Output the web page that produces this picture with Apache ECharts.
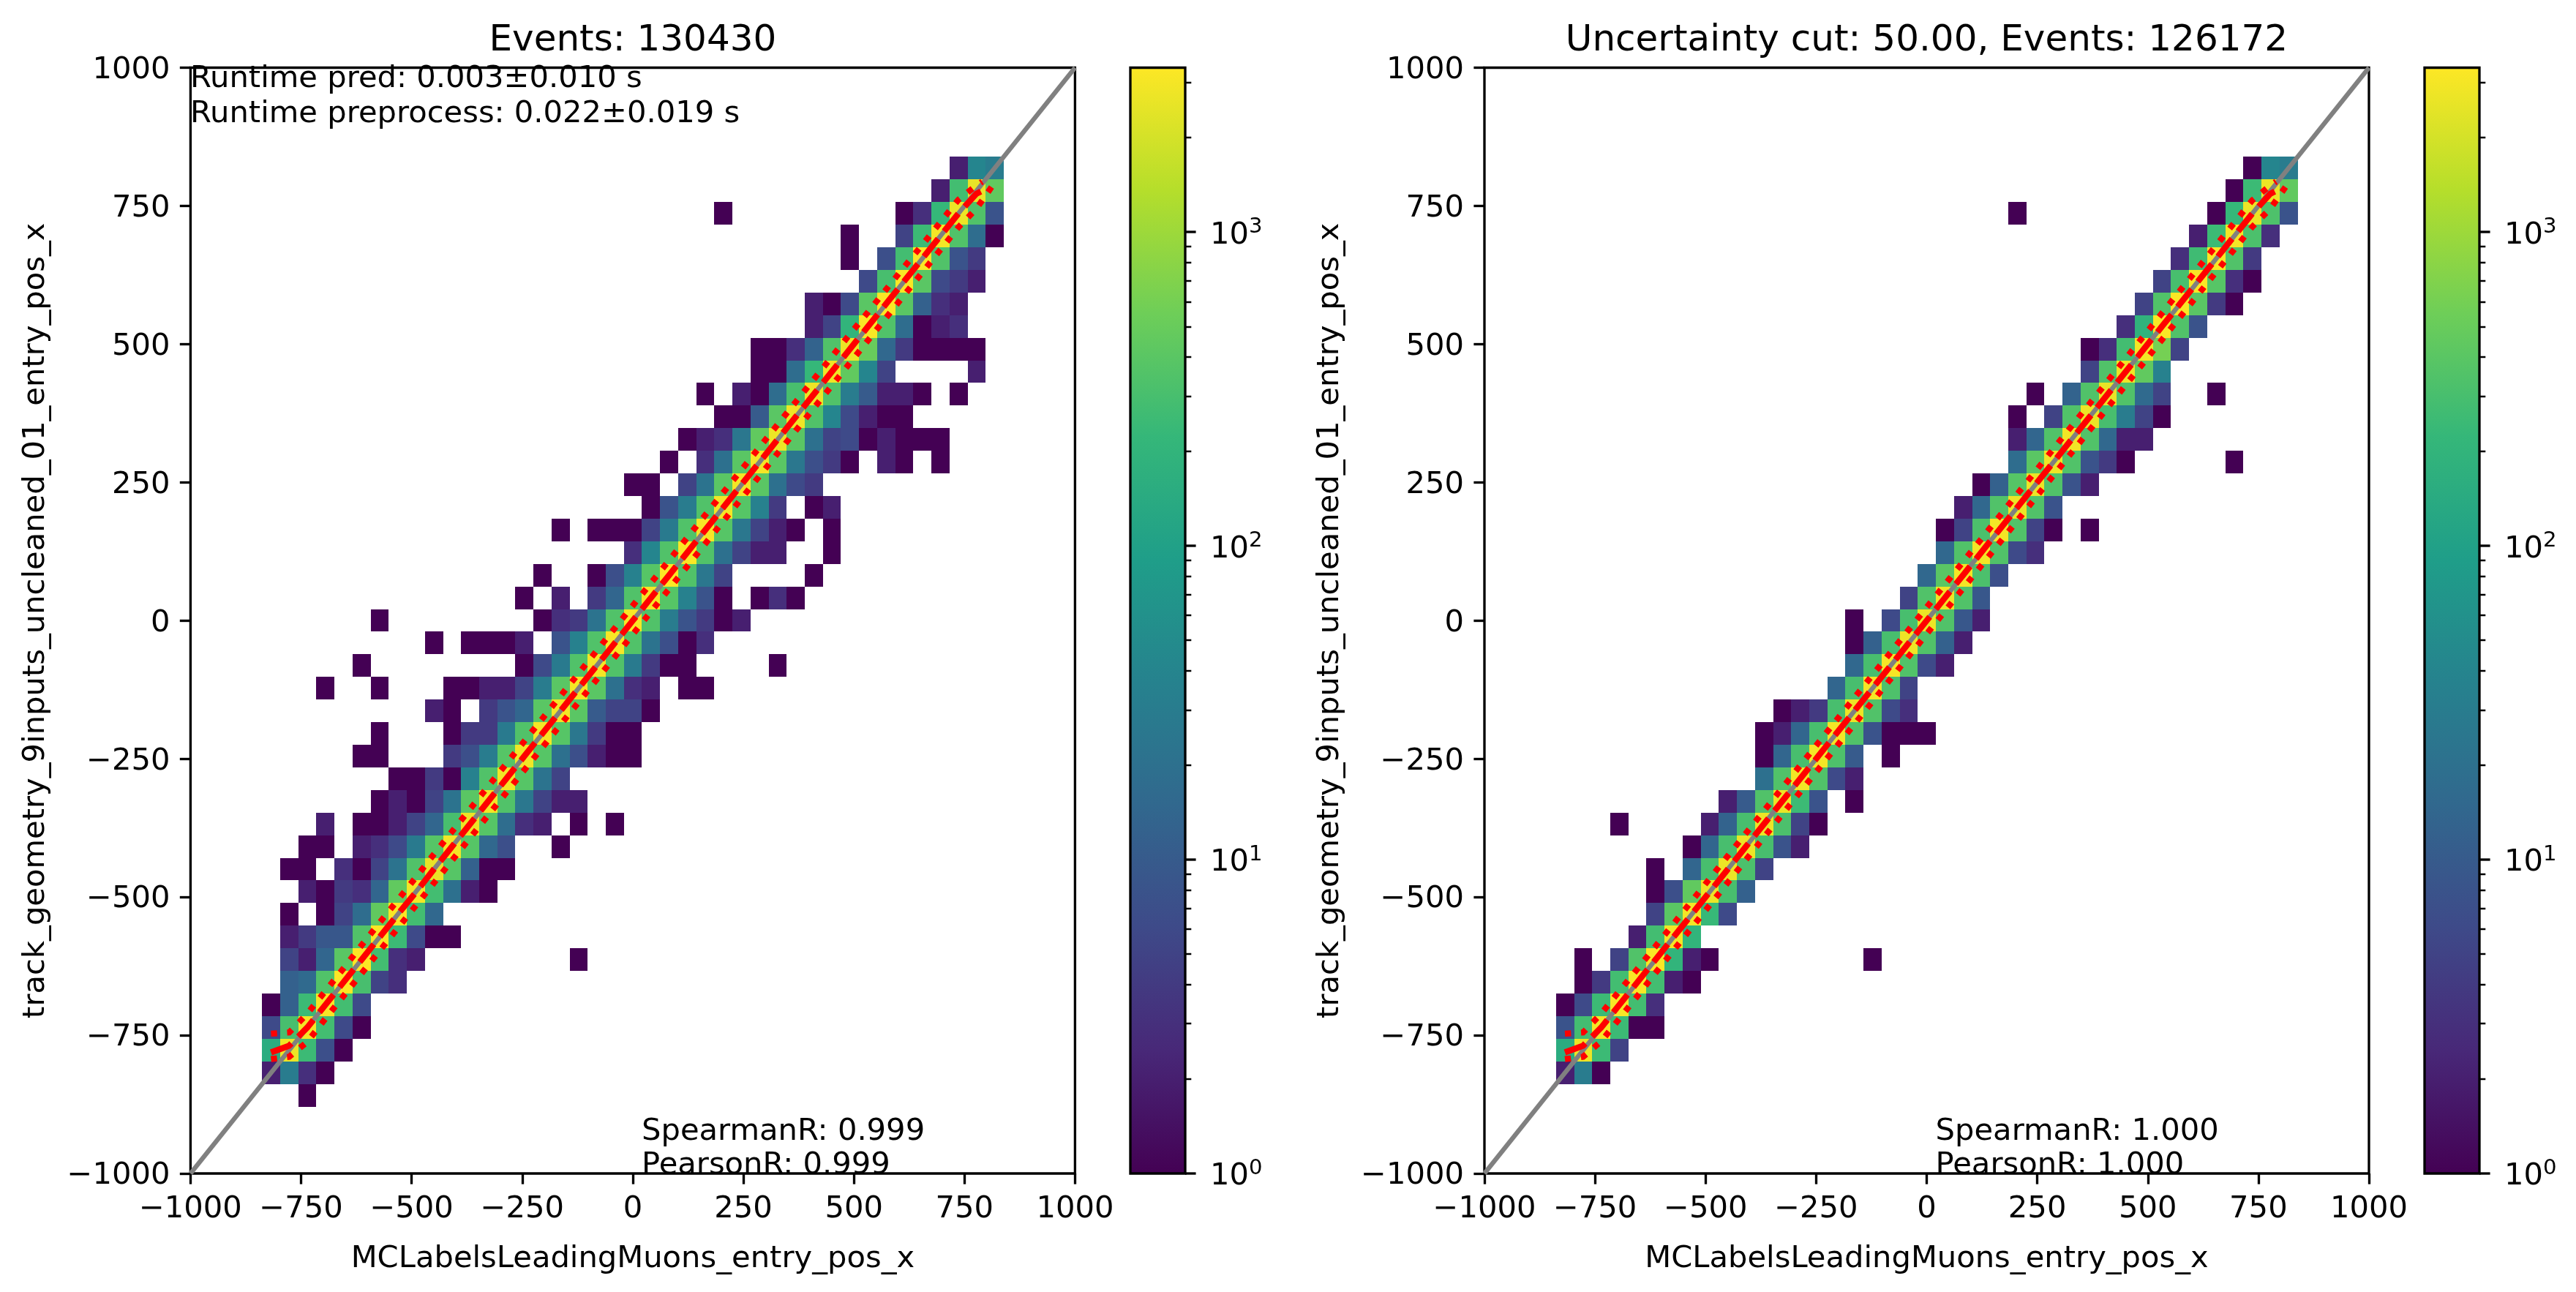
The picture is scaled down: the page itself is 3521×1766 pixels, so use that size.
<!DOCTYPE html>
<html><head><meta charset="utf-8">
<style>html,body{margin:0;padding:0;background:#fff}#c{width:3521px;height:1766px}</style>
<script src="https://cdn.jsdelivr.net/npm/echarts@6/dist/echarts.min.js"></script>
</head><body><div id="c"></div>
<script>
const binEdges=[-879,-838.1,-797.2,-756.3,-715.4,-674.5,-633.6,-592.7,-551.8,-510.9,-470,-429.1,-388.2,-347.3,-306.4,-265.5,-224.6,-183.7,-142.8,-101.9,-61,-20.1,20.8,61.7,102.6,143.5,184.4,225.3,266.2,307.1,348,388.9,429.8,470.7,511.6,552.5,593.4,634.3,675.2,716.1,757,797.9,838.8];
// [column, row, count]; column c spans binEdges[c+1]..binEdges[c+2], row r spans binEdges[r]..binEdges[r+1]
const leftCells=[
[38,41,2],[39,41,40],[40,41,30],
[37,40,2],[38,40,280],[39,40,2600],[40,40,450],
[25,39,1],[35,39,1],[36,39,3],[37,39,220],[38,39,2700],[39,39,350],[40,39,8],
[32,38,1],[35,38,5],[36,38,250],[37,38,3000],[38,38,350],[39,38,18],[40,38,1],
[32,37,1],[34,37,7],[35,37,280],[36,37,3200],[37,37,350],[38,37,8],[39,37,4],
[33,36,6],[34,36,300],[35,36,3200],[36,36,400],[37,36,6],[38,36,4],[39,36,2],
[30,35,2],[31,35,1],[32,35,6],[33,35,400],[34,35,3300],[35,35,400],[36,35,12],[37,35,3],[38,35,2],
[30,34,2],[31,34,5],[32,34,200],[33,34,3200],[34,34,350],[35,34,18],[36,34,1],[37,34,2],[38,34,3],
[27,33,1],[28,33,1],[29,33,3],[30,33,13],[31,33,350],[32,33,2700],[33,33,500],[34,33,15],[35,33,4],[36,33,1],[37,33,1],[38,33,1],[39,33,1],
[27,32,1],[28,32,1],[29,32,18],[30,32,220],[31,32,2800],[32,32,450],[33,32,40],[34,32,5],[39,32,2],
[24,31,1],[26,31,2],[27,31,1],[28,31,18],[29,31,300],[30,31,2700],[31,31,350],[32,31,30],[33,31,10],[34,31,2],[35,31,2],[36,31,1],[38,31,1],
[25,30,1],[26,30,1],[27,30,10],[28,30,400],[29,30,2800],[30,30,350],[31,30,40],[32,30,6],[33,30,2],[34,30,1],[35,30,1],
[23,29,1],[24,29,2],[25,29,3],[26,29,25],[27,29,450],[28,29,2700],[29,29,400],[30,29,20],[31,29,5],[32,29,6],[33,29,1],[34,29,2],[35,29,1],[36,29,1],[37,29,1],
[22,28,1],[24,28,3],[25,28,20],[26,28,400],[27,28,3000],[28,28,400],[29,28,25],[30,28,7],[31,28,4],[32,28,1],[34,28,2],[35,28,1],[37,28,1],
[20,27,1],[21,27,1],[23,27,5],[24,27,22],[25,27,400],[26,27,3000],[27,27,400],[28,27,20],[29,27,6],[30,27,4],
[21,26,1],[22,26,8],[23,26,30],[24,26,350],[25,26,3000],[26,26,380],[27,26,35],[28,26,4],[30,26,1],[31,26,2],
[16,25,1],[18,25,1],[19,25,1],[20,25,1],[21,25,5],[22,25,28],[23,25,350],[24,25,3100],[25,25,380],[26,25,25],[27,25,5],[28,25,2],[29,25,1],[31,25,1],
[20,24,3],[21,24,40],[22,24,350],[23,24,3200],[24,24,350],[25,24,20],[26,24,5],[27,24,2],[28,24,2],[31,24,1],
[15,23,1],[18,23,1],[19,23,7],[20,23,35],[21,23,380],[22,23,3300],[23,23,350],[24,23,25],[25,23,5],[30,23,1],
[14,22,1],[16,22,2],[18,22,4],[19,22,14],[20,22,350],[21,22,3000],[22,22,380],[23,22,35],[24,22,8],[25,22,1],[27,22,1],[28,22,3],[29,22,1],
[6,21,1],[15,21,1],[16,21,3],[17,21,4],[18,21,22],[19,21,350],[20,21,3200],[21,21,350],[22,21,30],[23,21,8],[24,21,4],[25,21,1],[26,21,2],
[9,20,1],[11,20,1],[12,20,1],[13,20,1],[14,20,2],[16,20,8],[17,20,35],[18,20,350],[19,20,3100],[20,20,350],[21,20,22],[22,20,7],[23,20,1],[24,20,3],
[5,19,1],[14,19,1],[15,19,6],[16,19,28],[17,19,350],[18,19,3000],[19,19,350],[20,19,28],[21,19,4],[22,19,1],[23,19,1],[28,19,1],
[3,18,1],[6,18,1],[10,18,1],[11,18,1],[12,18,2],[13,18,2],[14,18,5],[15,18,30],[16,18,400],[17,18,3000],[18,18,400],[19,18,20],[20,18,3],[21,18,2],[23,18,1],[24,18,1],
[9,17,2],[10,17,1],[12,17,4],[13,17,8],[14,17,14],[15,17,400],[16,17,3000],[17,17,400],[18,17,10],[19,17,5],[20,17,5],[21,17,1],
[6,16,1],[10,16,1],[11,16,4],[12,16,4],[13,16,28],[14,16,350],[15,16,3000],[16,16,380],[17,16,25],[18,16,4],[19,16,1],[20,16,1],
[5,15,1],[6,15,1],[10,15,4],[11,15,7],[12,15,30],[13,15,380],[14,15,2900],[15,15,380],[16,15,20],[17,15,7],[18,15,2],[19,15,1],[20,15,1],
[7,14,1],[8,14,1],[9,14,4],[10,14,1],[11,14,35],[12,14,350],[13,14,2900],[14,14,380],[15,14,22],[16,14,5],
[6,13,1],[7,13,2],[8,13,1],[9,13,5],[10,13,22],[11,13,400],[12,13,2900],[13,13,350],[14,13,25],[15,13,5],[16,13,2],[17,13,2],
[3,12,2],[5,12,1],[6,12,1],[7,12,2],[8,12,5],[9,12,14],[10,12,300],[11,12,2700],[12,12,380],[13,12,18],[14,12,3],[15,12,2],[17,12,1],[19,12,1],
[2,11,1],[3,11,1],[5,11,2],[6,11,3],[7,11,6],[8,11,28],[9,11,380],[10,11,3000],[11,11,380],[12,11,15],[13,11,7],[16,11,1],
[1,10,1],[2,10,1],[4,10,3],[5,10,1],[6,10,5],[7,10,22],[8,10,350],[9,10,2600],[10,10,380],[11,10,12],[12,10,1],[13,10,1],
[2,9,2],[3,9,1],[4,9,4],[5,9,3],[6,9,14],[7,9,450],[8,9,3000],[9,9,280],[10,9,20],[11,9,2],[12,9,1],
[1,8,1],[3,8,1],[4,8,5],[5,8,18],[6,8,450],[7,8,3200],[8,8,280],[9,8,15],
[1,7,2],[2,7,4],[3,7,9],[4,7,9],[5,7,350],[6,7,3200],[7,7,250],[8,7,6],[9,7,1],[10,7,1],
[1,6,5],[2,6,2],[3,6,14],[4,6,400],[5,6,3300],[6,6,280],[7,6,3],[8,6,2],[17,6,1],
[1,5,12],[2,5,16],[3,5,350],[4,5,3300],[5,5,300],[6,5,5],[7,5,3],
[0,4,1],[1,4,12],[2,4,250],[3,4,3100],[4,4,280],[5,4,6],
[0,3,6],[1,3,300],[2,3,3000],[3,3,280],[4,3,6],[5,3,1],
[0,2,150],[1,2,2700],[2,2,250],[3,2,7],[4,2,1],
[0,1,2],[1,1,30],[2,1,3],[3,1,1],
[2,0,1]
];
const rightCells=[
[38,41,1],[39,41,40],[40,41,30],
[37,40,1],[38,40,250],[39,40,2700],[40,40,450],
[25,39,1],[36,39,1],[37,39,220],[38,39,2700],[39,39,330],[40,39,8],
[35,38,2],[36,38,250],[37,38,3000],[38,38,320],[39,38,3],
[34,37,3],[35,37,260],[36,37,3200],[37,37,350],[38,37,4],
[33,36,5],[34,36,300],[35,36,3200],[36,36,380],[37,36,3],[38,36,1],
[32,35,5],[33,35,350],[34,35,3200],[35,35,400],[36,35,4],[37,35,1],
[31,34,3],[32,34,190],[33,34,3200],[34,34,350],[35,34,8],
[29,33,1],[30,33,3],[31,33,280],[32,33,2900],[33,33,600],[34,33,5],
[29,32,5],[30,32,350],[31,32,2800],[32,32,450],[33,32,35],
[26,31,1],[28,31,13],[29,31,350],[30,31,2600],[31,31,350],[32,31,16],[33,31,5],[36,31,1],
[25,30,1],[27,30,5],[28,30,350],[29,30,2700],[30,30,300],[31,30,30],[32,30,5],[33,30,1],
[25,29,2],[26,29,14],[27,29,350],[28,29,2900],[29,29,350],[30,29,15],[31,29,2],[32,29,2],
[25,28,18],[26,28,400],[27,28,2800],[28,28,350],[29,28,8],[30,28,4],[31,28,1],[37,28,1],
[23,27,1],[24,27,12],[25,27,380],[26,27,2700],[27,27,350],[28,27,8],[29,27,2],
[22,26,2],[23,26,15],[24,26,350],[25,26,2700],[26,26,350],[27,26,8],
[21,25,1],[22,25,5],[23,25,320],[24,25,3000],[25,25,350],[26,25,5],[27,25,1],[29,25,1],
[21,24,15],[22,24,350],[23,24,2900],[24,24,350],[25,24,6],[26,24,3],
[20,23,15],[21,23,400],[22,23,3000],[23,23,320],[24,23,7],
[19,22,5],[20,22,350],[21,22,2800],[22,22,350],[23,22,9],
[16,21,1],[18,21,6],[19,21,300],[20,21,2700],[21,21,350],[22,21,9],[23,21,2],
[16,20,1],[17,20,12],[18,20,300],[19,20,2800],[20,20,350],[21,20,12],[22,20,2],
[16,19,15],[17,19,300],[18,19,3100],[19,19,350],[20,19,6],[21,19,2],
[15,18,14],[16,18,300],[17,18,3000],[18,18,330],[19,18,5],
[12,17,1],[13,17,2],[14,17,4],[15,17,300],[16,17,2700],[17,17,350],[18,17,6],[19,17,3],
[11,16,1],[12,16,2],[13,16,14],[14,16,300],[15,16,3000],[16,16,350],[17,16,8],[18,16,1],[19,16,1],[20,16,1],
[11,15,1],[12,15,14],[13,15,300],[14,15,3000],[15,15,330],[16,15,10],[18,15,1],
[11,14,20],[12,14,350],[13,14,2900],[14,14,350],[15,14,6],[16,14,2],
[9,13,2],[10,13,10],[11,13,350],[12,13,2700],[13,13,250],[14,13,8],[16,13,1],
[3,12,1],[8,12,2],[9,12,13],[10,12,300],[11,12,2700],[12,12,320],[13,12,5],[14,12,1],
[7,11,1],[8,11,14],[9,11,300],[10,11,2700],[11,11,300],[12,11,8],[13,11,2],
[5,10,1],[7,10,14],[8,10,300],[9,10,2700],[10,10,320],[11,10,5],
[5,9,1],[6,9,7],[7,9,450],[8,9,2700],[9,9,300],[10,9,12],
[5,8,5],[6,8,400],[7,8,3000],[8,8,230],[9,8,6],
[4,7,2],[5,7,280],[6,7,3000],[7,7,200],
[1,6,1],[3,6,5],[4,6,350],[5,6,3200],[6,6,200],[7,6,2],[8,6,1],[17,6,1],
[1,5,1],[2,5,4],[3,5,280],[4,5,3200],[5,5,280],[6,5,2],[7,5,1],
[0,4,1],[1,4,6],[2,4,250],[3,4,3100],[4,4,280],[5,4,3],
[0,3,8],[1,3,280],[2,3,3000],[3,3,250],[4,3,1],[5,3,1],
[0,2,150],[1,2,2700],[2,2,250],[3,2,5],
[0,1,2],[1,1,30],[2,1,1]
];
const lineX=[-818,-777,-736,-695,-654,-613,-572,-531,-490,-450,-409,-368,-327,-286,-245,-204,-163,-122,-81,-41,0,41,82,123,164,205,245,286,327,368,409,450,491,532,573,614,655,695,736,777];
const leftMedian=[-781,-769,-736,-695,-654,-613,-572,-531,-491,-450,-409,-368,-327,-286,-245,-204,-163,-122,-81,-41,0,41,82,123,164,205,245,286,327,368,409,450,491,532,573,614,655,695,736,772];
const leftUpper=[-747,-745,-711,-670,-629,-587,-546,-505,-464,-423,-382,-341,-300,-259,-218,-177,-136,-95,-54,-14,27,68,109,150,191,232,272,313,354,395,436,477,518,558,599,640,680,720,761,787];
const leftLower=[-793,-789,-762,-720,-679,-638,-597,-556,-515,-475,-434,-393,-352,-311,-270,-229,-188,-147,-106,-66,-25,16,57,98,139,180,220,261,302,343,384,425,466,507,548,589,630,670,711,745];
const rightMedian=[-781,-769,-736,-695,-654,-613,-572,-531,-490,-450,-409,-368,-327,-286,-245,-204,-163,-122,-81,-41,0,41,82,123,164,205,245,286,327,368,409,450,491,532,573,614,655,695,736,772];
const rightUpper=[-747,-745,-711,-670,-630,-589,-548,-507,-466,-426,-385,-344,-303,-262,-221,-180,-139,-98,-57,-17,24,65,106,147,188,229,269,310,351,392,433,474,515,556,597,638,679,719,760,787];
const rightLower=[-793,-789,-761,-720,-679,-637,-596,-555,-514,-474,-433,-392,-351,-310,-269,-228,-187,-146,-105,-65,-24,17,58,99,140,181,221,262,303,344,385,426,467,508,549,590,631,671,712,745];
const medianTail=[787,776];
const upperTail=[790,794];
const lowerTail=[812,785];
const diagonal=[[-1000,-1000],[1000,1000]];
const axisTicks=[-1000,1000,250];
const colorbarMax=3346;
const colorbarMajor=[1,10,100,1000];
const colorbarMinor=[2,3,4,5,6,7,8,9,20,30,40,50,60,70,80,90,200,300,400,500,600,700,800,900,2000,3000];
const xName='MCLabelsLeadingMuons_entry_pos_x';
const yName='track_geometry_9inputs_uncleaned_01_entry_pos_x';
const leftTitle='Events: 130430';
const rightTitle='Uncertainty cut: 50.00, Events: 126172';
const runtimeLines=['Runtime pred: 0.003±0.010 s','Runtime preprocess: 0.022±0.019 s'];
const leftStats=['SpearmanR: 0.999','PearsonR: 0.999'];
const rightStats=['SpearmanR: 1.000','PearsonR: 1.000'];

const viridis=['#440154','#482878','#3e4a89','#31688e','#26828e','#1f9e89','#35b779','#6ece58','#b5de2b','#fde725'];
const FONT='"DejaVu Sans"', FS=41.67, LW=3.33;
function hex(c){return [1,3,5].map(i=>parseInt(c.substr(i,2),16));}
function colorAt(t){t=Math.max(0,Math.min(1,t));const p=t*(viridis.length-1),i=Math.min(viridis.length-2,Math.floor(p)),f=p-i,a=hex(viridis[i]),b=hex(viridis[i+1]);
  return 'rgb('+a.map((v,k)=>Math.round(v+(b[k]-v)*f)).join(',')+')';}
const logMax=Math.log10(colorbarMax);
const minus=v=>String(v).replace('-','\u2212');

const P=[{x:260.4,cx:1545},{x:2029,cx:3314}];
const W=1209,TOP=92.5,H=1511.5,CW=75;
const grid=[],xAxis=[],yAxis=[],series=[],title=[],graphic=[];

function heat(cells,ax){
  return {type:'custom',xAxisIndex:ax,yAxisIndex:ax,z:1,silent:true,animation:false,clip:false,
    data:cells.map(c=>[binEdges[c[0]+1],binEdges[c[0]+2],binEdges[c[1]],binEdges[c[1]+1],c[2]]),
    encode:{x:[0,1],y:[2,3]},
    renderItem:(p,api)=>{
      const a=api.coord([api.value(0),api.value(3)]),b=api.coord([api.value(1),api.value(2)]);
      const x=Math.round(a[0]),y=Math.round(a[1]);
      return {type:'rect',shape:{x,y,width:Math.round(b[0])-x,height:Math.round(b[1])-y},
        style:{fill:colorAt(Math.log10(api.value(4))/logMax),stroke:null}};
    }};
}
function line(data,ax,color,width,dash,z){
  return {type:'line',xAxisIndex:ax,yAxisIndex:ax,z,silent:true,animation:false,showSymbol:false,symbol:'none',clip:true,
    data,lineStyle:{color,width,type:dash,cap:'butt',join:'miter'}};
}
function addPanel(i,cells,med,up,lo,ttl,stats){
  const g=P[i],a=i*2,b=a+1;
  grid.push({left:g.x,top:TOP,width:W,height:H,show:true,borderColor:'#000',borderWidth:LW,backgroundColor:'#fff',containLabel:false,outerBoundsMode:'none'});
  grid.push({left:g.cx,top:TOP,width:CW,height:H,show:false,outerBoundsMode:'none'});
  const common={type:'value',min:axisTicks[0],max:axisTicks[1],interval:axisTicks[2],splitLine:{show:false},
    axisLine:{show:false,onZero:false},axisTick:{show:true,length:14.6,lineStyle:{color:'#000',width:LW}},
    nameTextStyle:{fontFamily:FONT,fontSize:FS,color:'#000'}};
  xAxis.push(Object.assign({},common,{gridIndex:a,position:'bottom',name:xName,nameLocation:'middle',nameGap:96,
    axisLabel:{fontFamily:FONT,fontSize:FS,color:'#000',margin:28,formatter:minus,hideOverlap:false}}));
  yAxis.push(Object.assign({},common,{gridIndex:a,position:'left',name:yName,nameLocation:'middle',nameGap:190,
    axisLabel:{fontFamily:FONT,fontSize:FS,color:'#000',margin:28,formatter:v=>'{v|'+minus(v)+'}',hideOverlap:false,
      rich:{v:{fontFamily:FONT,fontSize:FS,color:'#000',padding:[7,0,0,0]}}}}));
  xAxis.push({type:'value',gridIndex:b,min:0,max:1,show:false});
  yAxis.push({type:'log',logBase:10,gridIndex:b,min:1,max:colorbarMax,position:'right',
    axisLine:{show:false,onZero:false},axisTick:{show:false},splitLine:{show:false},minorTick:{show:false},minorSplitLine:{show:false},
    axisLabel:{margin:34,color:'#000',fontFamily:FONT,fontSize:FS,
      formatter:v=>{const e=Math.log10(v);return Math.abs(e-Math.round(e))<1e-6?'{b|10}{s|'+Math.round(e)+'}':'';},
      rich:{b:{fontFamily:FONT,fontSize:FS,color:'#000',padding:[9,0,0,0]},s:{fontFamily:FONT,fontSize:29.2,color:'#000',verticalAlign:'top',padding:[4,0,14,0]}}}});
  series.push(heat(cells,a));
  series.push(line(diagonal,a,'#808080',6.25,'solid',2));
  const pts=(v,t)=>lineX.map((x,k)=>[x,v[k]]).concat([t]);
  series.push(line(pts(med,medianTail),a,'#ff0000',8.33,[30.8,13.3],3));
  series.push(line(pts(up,upperTail),a,'#ff0000',8.33,[8.33,13.75],3));
  series.push(line(pts(lo,lowerTail),a,'#ff0000',8.33,[8.33,13.75],3));
  // colorbar
  series.push({type:'custom',xAxisIndex:b,yAxisIndex:b,z:1,silent:true,animation:false,clip:false,data:[[0,1,1,colorbarMax]],
    encode:{x:[0,1],y:[2,3]},
    renderItem:(p,api)=>{
      const s=api.coord([api.value(0),api.value(3)]),e=api.coord([api.value(1),api.value(2)]);
      const shape={x:s[0],y:s[1],width:e[0]-s[0],height:e[1]-s[1]};
      const stops=viridis.map((c,k)=>({offset:k/(viridis.length-1),color:c}));
      return {type:'group',children:[
        {type:'rect',shape,style:{fill:new echarts.graphic.LinearGradient(0,1,0,0,stops),stroke:null}},
        {type:'rect',shape,style:{fill:null,stroke:'#000',lineWidth:LW}}]};
    }});
  const tickSeries=(vals,len,w)=>({type:'custom',xAxisIndex:b,yAxisIndex:b,z:2,silent:true,animation:false,clip:false,
    data:vals.map(v=>[1,v]),encode:{x:0,y:1},
    renderItem:(p,api)=>{const q=api.coord([api.value(0),api.value(1)]);
      return {type:'line',shape:{x1:q[0],y1:Math.round(q[1]),x2:q[0]+len,y2:Math.round(q[1])},style:{stroke:'#000',lineWidth:w}};}});
  series.push(tickSeries(colorbarMajor,14.6,LW));
  series.push(tickSeries(colorbarMinor,8.3,2.5));
  title.push({text:ttl,left:g.x+W/2,top:31,padding:0,textAlign:'center',textStyle:{fontFamily:FONT,fontSize:50,fontWeight:'normal',color:'#000'}});
  const txt=(t,x,base)=>graphic.push({type:'text',z:10,silent:true,style:{text:t,x,y:base,fill:'#000',fontFamily:FONT,fontSize:FS,textAlign:'left',textVerticalAlign:'bottom'}});
  txt(stats[0],g.x+616.6,1568);
  txt(stats[1],g.x+616.6,1614);
  if(i===0){txt(runtimeLines[0],g.x-0.4,129);txt(runtimeLines[1],g.x-0.4,177);}
}
addPanel(0,leftCells,leftMedian,leftUpper,leftLower,leftTitle,leftStats);
addPanel(1,rightCells,rightMedian,rightUpper,rightLower,rightTitle,rightStats);
const chart=echarts.init(document.getElementById('c'),null,{renderer:'canvas',width:3521,height:1766});
chart.setOption({animation:false,backgroundColor:'#fff',title,grid,xAxis,yAxis,series,graphic});
</script></body></html>
